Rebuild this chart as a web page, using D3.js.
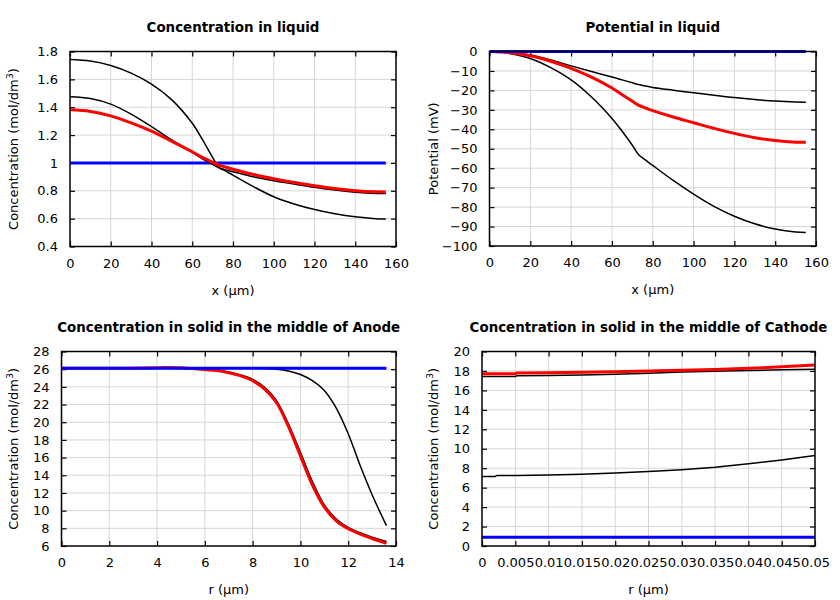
<!DOCTYPE html>
<html><head><meta charset="utf-8">
<script src="https://cdn.jsdelivr.net/npm/d3@7"></script>
<style>body{margin:0;background:#fff}svg{display:block;font-family:"DejaVu Sans",sans-serif}</style>
</head><body><svg id="c" width="840" height="600"></svg>
<script>
// ---------- DATA ----------
// Panel 1: Concentration in liquid (x in µm)
const liqX = [0,10,20,30,40,50,60,65,70,73,76,80,90,100,110,120,130,140,150,155];
const liqHigh = [1.743,1.732,1.70,1.645,1.566,1.453,1.285,1.168,1.04,0.968,0.945,0.912,0.83,0.757,0.705,0.665,0.635,0.613,0.600,0.598];
const liqMid  = [1.475,1.462,1.422,1.35,1.26,1.165,1.075,1.03,0.99,0.966,0.952,0.937,0.90,0.872,0.848,0.825,0.805,0.790,0.781,0.780];
const liqRed  = [1.381,1.370,1.338,1.288,1.228,1.155,1.08,1.04,1.005,0.985,0.972,0.955,0.917,0.886,0.859,0.836,0.816,0.801,0.793,0.792];
const liqBlue = [1,1,1,1,1,1,1,1,1,1,1,1,1,1,1,1,1,1,1,1];

// Panel 2: Potential in liquid (mV)
const potX = [0,5,10,20,30,40,50,60,65,70,73,76,80,90,100,110,120,130,140,150,155];
const potHigh = [0,-0.1,-0.4,-1.8,-4.3,-7.4,-10.3,-13.1,-14.6,-16.1,-17.0,-17.7,-18.5,-19.9,-21.2,-22.5,-23.7,-24.7,-25.5,-26.0,-26.1];
const potRed  = [0,-0.2,-0.6,-2.2,-5.0,-8.7,-13.2,-18.8,-22.2,-25.6,-27.6,-28.9,-30.4,-33.7,-36.6,-39.5,-42.1,-44.3,-45.8,-46.6,-46.7];
const potLow  = [0,-0.3,-1.0,-3.6,-8.3,-14.6,-23.4,-34.4,-41.0,-48.2,-52.9,-55.5,-58.6,-66.3,-73.3,-79.6,-84.7,-88.6,-91.3,-92.8,-93.0];
const potBlue = [0,0,0,0,0,0,0,0,0,0,0,0,0,0,0,0,0,0,0,0,0];

// Panel 3: Concentration in solid, Anode (r in µm)
const anR = [0,2,4,4.5,5,6,6.5,7,7.5,8,8.5,9,9.5,10,10.5,11,11.5,12,12.5,13,13.6];
const anRight = [26.1,26.1,26.1,26.1,26.1,26.1,26.1,26.1,26.1,26.1,26.08,26.0,25.8,25.4,24.7,23.6,21.6,18.7,15.1,11.8,8.3];
const anLeft  = [26.1,26.1,26.1,26.1,26.1,25.97,25.88,25.68,25.35,24.85,23.95,22.45,19.8,16.6,13.3,10.65,9.05,8.1,7.5,7.0,6.5];
const anRed   = [26.1,26.1,26.15,26.2,26.15,25.95,25.85,25.6,25.25,24.7,23.75,22.2,19.5,16.2,12.9,10.4,8.85,7.95,7.35,6.85,6.3];
const anBlue  = [26.1,26.1,26.1,26.1,26.1,26.1,26.1,26.1,26.1,26.1,26.1,26.1,26.1,26.1,26.1,26.1,26.1,26.1,26.1,26.1,26.1];

// Panel 4: Concentration in solid, Cathode (r in µm)
const caR = [0,0.002,0.0022,0.005,0.0052,0.01,0.015,0.02,0.025,0.03,0.035,0.04,0.045,0.05];
const caRed  = [17.7,17.7,17.7,17.7,17.8,17.82,17.86,17.92,17.99,18.07,18.16,18.27,18.42,18.6];
const caHigh = [17.42,17.42,17.42,17.42,17.5,17.52,17.58,17.66,17.77,17.88,17.97,18.05,18.12,18.18];
const caLow  = [7.15,7.15,7.25,7.25,7.24,7.3,7.38,7.5,7.65,7.85,8.1,8.45,8.85,9.3];
const caBlue = [0.9,0.9,0.9,0.9,0.9,0.9,0.9,0.9,0.9,0.9,0.9,0.9,0.9,0.9];

// Tick labels
const ticksX12 = [0,20,40,60,80,100,120,140,160];
const ticksY1 = [0.4,0.6,0.8,1,1.2,1.4,1.6,1.8];
const ticksY2 = [0,-10,-20,-30,-40,-50,-60,-70,-80,-90,-100];
const ticksX3 = [0,2,4,6,8,10,12,14];
const ticksY3 = [6,8,10,12,14,16,18,20,22,24,26,28];
const ticksX4 = [0,0.005,0.01,0.015,0.02,0.025,0.03,0.035,0.04,0.045,0.05];
const ticksY4 = [0,2,4,6,8,10,12,14,16,18,20];

// ---------- DRAW ----------
const svg = d3.select("#c");
const fmt = d3.format("~g");

function panel(o){
  const g = svg.append("g");
  const x = d3.scaleLinear().domain(o.xd).range([o.l,o.r]);
  const y = d3.scaleLinear().domain(o.yd).range([o.b,o.t]);
  g.append("g").selectAll("line").data(o.tx.slice(1,-1)).join("line")
    .attr("x1",d=>x(d)).attr("x2",d=>x(d)).attr("y1",o.t).attr("y2",o.b)
    .attr("stroke","#d6d6d6").attr("stroke-width",1);
  g.append("g").selectAll("line").data(o.ty.slice(1,-1)).join("line")
    .attr("y1",d=>y(d)).attr("y2",d=>y(d)).attr("x1",o.l).attr("x2",o.r)
    .attr("stroke","#d6d6d6").attr("stroke-width",1);
  const tl = 5;
  const ax = g.append("g").attr("transform",`translate(0,${o.b})`)
    .call(d3.axisBottom(x).tickValues(o.tx).tickFormat(fmt).tickSizeInner(-tl).tickSizeOuter(0).tickPadding(12));
  const axT = g.append("g").attr("transform",`translate(0,${o.t})`)
    .call(d3.axisTop(x).tickValues(o.tx).tickFormat("").tickSizeInner(-tl).tickSizeOuter(0));
  const ay = g.append("g").attr("transform",`translate(${o.l},0)`)
    .call(d3.axisLeft(y).tickValues(o.ty).tickFormat(fmt).tickSizeInner(-tl).tickSizeOuter(0).tickPadding(12));
  const ayR = g.append("g").attr("transform",`translate(${o.r},0)`)
    .call(d3.axisRight(y).tickValues(o.ty).tickFormat("").tickSizeInner(-tl).tickSizeOuter(0));
  [ax,axT,ay,ayR].forEach(a=>{
    a.select(".domain").remove();
    a.selectAll(".tick line").attr("stroke","#000").attr("stroke-width",1.2);
    a.selectAll("text").attr("font-size",13).attr("fill","#000").attr("font-family","DejaVu Sans, sans-serif");
  });
  g.append("clipPath").attr("id","cp"+o.id).append("rect")
    .attr("x",o.l).attr("y",o.t-2).attr("width",o.r-o.l).attr("height",o.b-o.t+4);
  const sg = g.append("g").attr("clip-path",`url(#cp${o.id})`);
  o.series.forEach(s=>{
    const line = d3.line().x((d,i)=>x(o.xs[i])).y(d=>y(d)).curve(o.curve||d3.curveCatmullRom.alpha(0.5));
    sg.append("path").attr("d",line(s.v)).attr("fill","none")
      .attr("stroke",s.c).attr("stroke-width",s.w).attr("stroke-linejoin","round");
  });
  g.append("rect").attr("x",o.l).attr("y",o.t).attr("width",o.r-o.l).attr("height",o.b-o.t)
    .attr("fill","none").attr("stroke","#000").attr("stroke-width",1.5);
  g.append("text").attr("x",(o.l+o.r)/2).attr("y",o.t-20).attr("text-anchor","middle")
    .attr("font-size",13.4).attr("font-weight","bold").text(o.title);
  g.append("text").attr("x",(o.l+o.r)/2).attr("y",o.b+48).attr("text-anchor","middle")
    .attr("font-size",13).text(o.xl);
  const yt = g.append("text").attr("transform",`translate(${o.ylx},${(o.t+o.b)/2}) rotate(-90)`)
    .attr("text-anchor","middle").attr("font-size",13);
  if(o.sup){
    yt.append("tspan").text(o.yl);
    yt.append("tspan").attr("dy",-5).attr("font-size",9.5).text(o.sup);
    yt.append("tspan").attr("dy",5).text(")");
  } else yt.text(o.yl);
}

panel({id:1,l:70,r:396,t:51.5,b:246.5,xd:[0,160],yd:[0.4,1.8],tx:ticksX12,ty:ticksY1,xs:liqX,
  title:"Concentration in liquid",xl:"x (µm)",yl:"Concentration (mol/dm",sup:"3",ylx:18,
  series:[{v:liqBlue,c:"#0000ff",w:3},{v:liqHigh,c:"#000",w:1.5},{v:liqMid,c:"#000",w:1.5},{v:liqRed,c:"#ff0000",w:3}]});
panel({id:2,l:489.5,r:816,t:51.5,b:246,xd:[0,160],yd:[-100,0],tx:ticksX12,ty:ticksY2,xs:potX,
  title:"Potential in liquid",xl:"x (µm)",yl:"Potential (mV)",ylx:438,
  series:[{v:potHigh,c:"#000",w:1.5},{v:potLow,c:"#000",w:1.5},{v:potRed,c:"#ff0000",w:3},{v:potBlue,c:"#0000ff",w:3}]});
panel({id:3,l:61.5,r:396,t:351.5,b:546,xd:[0,14],yd:[6,28],tx:ticksX3,ty:ticksY3,xs:anR,
  title:"Concentration in solid in the middle of Anode",xl:"r (µm)",yl:"Concentration (mol/dm",sup:"3",ylx:18,
  series:[{v:anRight,c:"#000",w:1.5},{v:anLeft,c:"#000",w:1.5},{v:anRed,c:"#ff0000",w:3},{v:anBlue,c:"#0000ff",w:3}]});
panel({id:4,l:482,r:815,t:351.5,b:546,xd:[0,0.05],yd:[0,20],tx:ticksX4,ty:ticksY4,xs:caR,curve:d3.curveLinear,
  title:"Concentration in solid in the middle of Cathode",xl:"r (µm)",yl:"Concentration (mol/dm",sup:"3",ylx:438,
  series:[{v:caBlue,c:"#0000ff",w:3},{v:caHigh,c:"#000",w:1.5},{v:caLow,c:"#000",w:1.5},{v:caRed,c:"#ff0000",w:3}]});
</script></body></html>
